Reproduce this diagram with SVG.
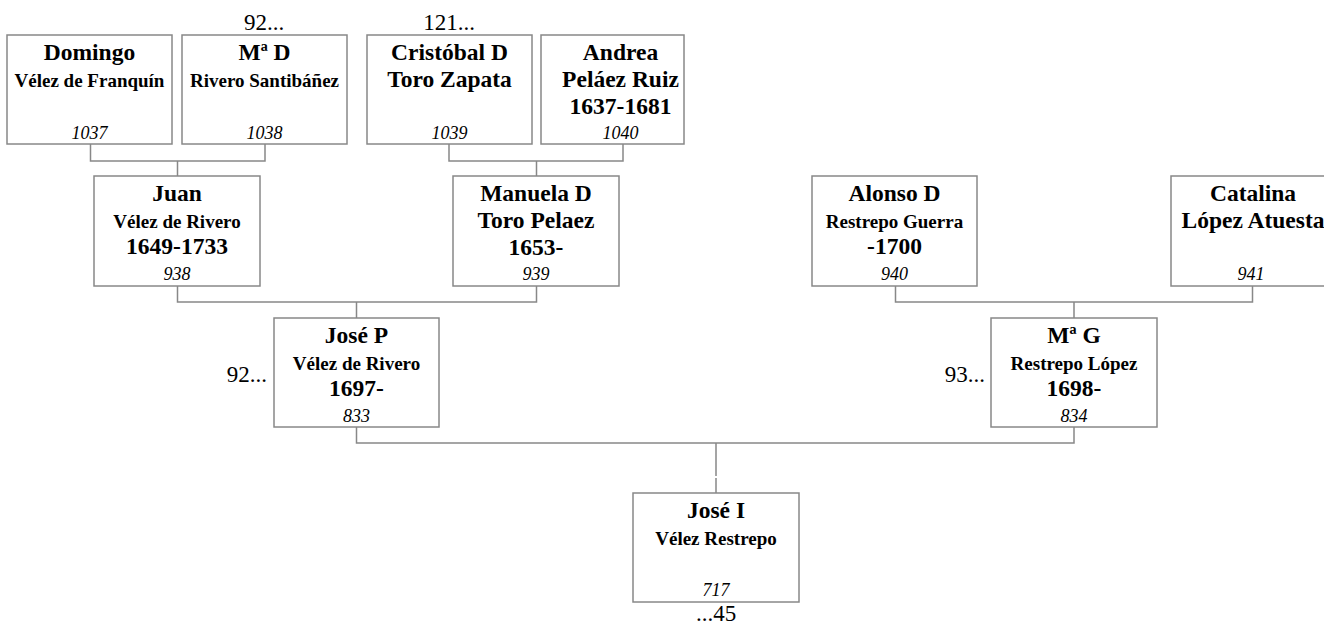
<svg xmlns="http://www.w3.org/2000/svg" width="1324" height="626" viewBox="0 0 1324 626">
<style>
.box{fill:#fff;stroke:#888;stroke-width:1.5}
.con{fill:none;stroke:#888;stroke-width:1.5}
text{font-family:"Liberation Serif","Times New Roman",serif;fill:#000;text-anchor:middle}
.n{font-weight:bold;font-size:23.5px}
.s{font-weight:bold;font-size:19px}
.id{font-style:italic;font-size:18px}
.ext{font-size:23px}
</style>
<rect width="1324" height="626" fill="#fff"/>
<g id="connectors">
<path class="con" d="M90.5,144V161H265V144M177.5,161V176"/>
<path class="con" d="M449,144V161H623V144M536.5,161V176"/>
<path class="con" d="M177.5,286V302H536.5V286M356.5,302V318"/>
<path class="con" d="M895.5,286V302H1252.5V286M1074,302V318"/>
<path class="con" d="M356.5,427V443H1074V427M716,443V476M716,478V493"/>
</g>
<g id="n1037">
<rect class="box" x="7" y="35" width="165" height="109"/>
<text class="n" x="89.5" y="60">Domingo</text>
<text class="s" x="89.5" y="86.5">Vélez de Franquín</text>
<text class="id" x="89.5" y="138.5">1037</text>
</g>
<g id="n1038">
<text class="ext" x="264" y="30">92...</text>
<rect class="box" x="182" y="35" width="165" height="109"/>
<text class="n" x="264.5" y="60">Mª D</text>
<text class="s" x="264.5" y="86.5">Rivero Santibáñez</text>
<text class="id" x="264.5" y="138.5">1038</text>
</g>
<g id="n1039">
<text class="ext" x="449" y="30">121...</text>
<rect class="box" x="367" y="35" width="165" height="109"/>
<text class="n" x="449.5" y="60">Cristóbal D</text>
<text class="n" x="449.5" y="87">Toro Zapata</text>
<text class="id" x="449.5" y="138.5">1039</text>
</g>
<g id="n1040">
<rect class="box" x="541" y="35" width="143" height="109"/>
<text class="n" x="620.5" y="60">Andrea</text>
<text class="n" x="620.5" y="87">Peláez Ruiz</text>
<text class="n" x="620.5" y="114">1637-1681</text>
<text class="id" x="620.5" y="138.5">1040</text>
</g>
<g id="n938">
<rect class="box" x="94" y="176" width="166" height="110"/>
<text class="n" x="177" y="201">Juan</text>
<text class="s" x="177" y="227.5">Vélez de Rivero</text>
<text class="n" x="177" y="254">1649-1733</text>
<text class="id" x="177" y="280">938</text>
</g>
<g id="n939">
<rect class="box" x="453" y="176" width="166" height="110"/>
<text class="n" x="536" y="201">Manuela D</text>
<text class="n" x="536" y="228">Toro Pelaez</text>
<text class="n" x="536" y="255">1653-</text>
<text class="id" x="536" y="280">939</text>
</g>
<g id="n940">
<rect class="box" x="812" y="176" width="165" height="110"/>
<text class="n" x="894.5" y="201">Alonso D</text>
<text class="s" x="894.5" y="227.5">Restrepo Guerra</text>
<text class="n" x="894.5" y="254">-1700</text>
<text class="id" x="894.5" y="280">940</text>
</g>
<g id="n941">
<rect class="box" x="1171" y="176" width="165" height="110"/>
<text class="n" x="1253" y="201">Catalina</text>
<text class="n" x="1253" y="228">López Atuesta</text>
<text class="id" x="1251" y="280">941</text>
</g>
<g id="n833">
<text class="ext" x="267" y="381.5" style="text-anchor:end">92...</text>
<rect class="box" x="274" y="318" width="165" height="109"/>
<text class="n" x="356.5" y="343">José P</text>
<text class="s" x="356.5" y="369.5">Vélez de Rivero</text>
<text class="n" x="356.5" y="396">1697-</text>
<text class="id" x="356.5" y="421.5">833</text>
</g>
<g id="n834">
<text class="ext" x="985" y="381.5" style="text-anchor:end">93...</text>
<rect class="box" x="991" y="318" width="166" height="109"/>
<text class="n" x="1074" y="343">Mª G</text>
<text class="s" x="1074" y="369.5">Restrepo López</text>
<text class="n" x="1074" y="396">1698-</text>
<text class="id" x="1074" y="421.5">834</text>
</g>
<g id="n717">
<rect class="box" x="633" y="493" width="166" height="109"/>
<text class="n" x="716" y="518">José I</text>
<text class="s" x="716" y="544.5">Vélez Restrepo</text>
<text class="id" x="716" y="596">717</text>
<text class="ext" x="716" y="621">...45</text>
</g>
</svg>
